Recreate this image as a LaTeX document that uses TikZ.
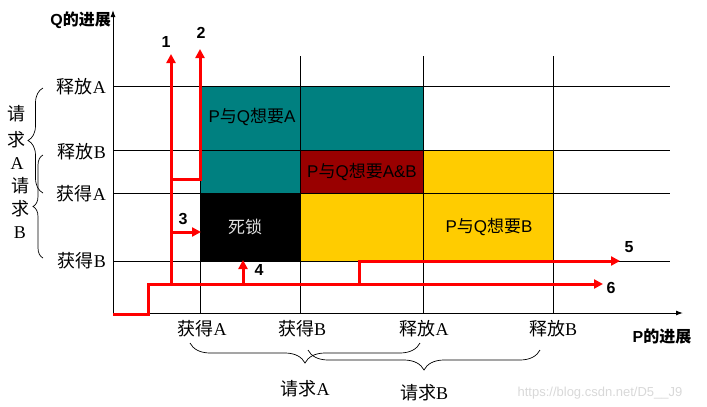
\documentclass[tikz,border=0pt]{standalone}
\usepackage{fontspec}
\setmainfont{Liberation Serif}
\newfontfamily\cjk{Noto Sans CJK SC}
\newfontfamily\arialf{Liberation Sans}
\usetikzlibrary{decorations.pathreplacing,arrows.meta}
\definecolor{tealc}{HTML}{008080}
\definecolor{darkredc}{HTML}{990000}
\definecolor{yellowc}{HTML}{FFCC00}
\definecolor{wmark}{HTML}{D8D8D8}
\tikzset{
  gridline/.style={draw=black, line width=0.9pt},
  axisline/.style={draw=black, line width=1pt, -{Latex[length=7pt,width=5pt]}},
  redpath/.style={draw=red, line width=3pt},
  redarrow/.style={redpath, -{Triangle[length=9pt,width=9pt]}},
  numlabel/.style={font=\arialf\bfseries\fontsize{16}{16}\selectfont, inner sep=0pt},
  ticklabel/.style={font=\fontsize{18}{18}\selectfont, inner sep=0pt},
  regionlabel/.style={font=\fontsize{17}{17}\selectfont, inner sep=0pt},
  axislabel/.style={font=\arialf\bfseries\fontsize{16}{16}\selectfont, inner sep=0pt},
  bracel/.style={draw=black, line width=0.7pt, decorate, decoration={brace, amplitude=#1}},
}
\begin{document}
\begin{tikzpicture}[x=1pt,y=-1pt]
\useasboundingbox (0,0) rectangle (707,407);
% regions
\fill[tealc] (200,86) rectangle (423,150);
\fill[tealc] (200,150) rectangle (300,193);
\fill[darkredc] (300,150) rectangle (423,193);
\fill[yellowc] (423,150) rectangle (553,261);
\fill[yellowc] (300,193) rectangle (423,261);
\fill[black] (200,193) rectangle (300,261);
% grid
\foreach \yy in {86,150,193,261} \draw[gridline] (113,\yy) -- (670,\yy);
\foreach \xx in {200,300,423,553} \draw[gridline] (\xx,56) -- (\xx,313);
% axes
\coordinate (O) at (113,313);
\coordinate (Ytop) at (113,10);
\coordinate (Xend) at (683,313);
\draw[axisline] (O) -- (Ytop);
\draw[axisline] (O) -- (Xend);
\node[axislabel, anchor=east] (qlab) at (111,20) {Q{\cjk 的进展}};
\node[axislabel] (plab) at (662,336) {P{\cjk 的进展}};
% region labels
\node[regionlabel] (ra) at (252,117) {{\arialf P}{\cjk 与}{\arialf Q}{\cjk 想要}{\arialf A}};
\node[regionlabel] (rab) at (362,172) {{\arialf P}{\cjk 与}{\arialf Q}{\cjk 想要}{\arialf A\&B}};
\node[regionlabel] (rb) at (489,227) {{\arialf P}{\cjk 与}{\arialf Q}{\cjk 想要}{\arialf B}};
\node[regionlabel, text=white!88!black] (dl) at (245,227) {\cjk 死锁};
% y tick labels
\node[ticklabel, anchor=east] (yra) at (106,87) {{\cjk 释放}A};
\node[ticklabel, anchor=east] (yrb) at (106,152) {{\cjk 释放}B};
\node[ticklabel, anchor=east] (yga) at (106,194) {{\cjk 获得}A};
\node[ticklabel, anchor=east] (ygb) at (106,261) {{\cjk 获得}B};
% x tick labels
\node[ticklabel] (xga) at (202,329) {{\cjk 获得}A};
\node[ticklabel] (xgb) at (302,329) {{\cjk 获得}B};
\node[ticklabel] (xra) at (424,329) {{\cjk 释放}A};
\node[ticklabel] (xrb) at (553,329) {{\cjk 释放}B};
% left braces
\coordinate (lb1a) at (43,193); \coordinate (lb1b) at (43,88);
\coordinate (lb2a) at (43,258); \coordinate (lb2b) at (43,155);
\draw[bracel=15pt] (lb1a) -- (lb1b);
\draw[bracel=10pt] (lb2a) -- (lb2b);
\node[ticklabel] (qa1) at (17,114) {\cjk 请};
\node[ticklabel] (qa2) at (17,140) {\cjk 求};
\node[ticklabel] (qa3) at (17,164) {A};
\node[ticklabel] (qb1) at (20,186) {\cjk 请};
\node[ticklabel] (qb2) at (20,209) {\cjk 求};
\node[ticklabel] (qb3) at (20,233) {B};
% bottom braces
\coordinate (bb1a) at (420,343); \coordinate (bb1b) at (190,343);
\coordinate (bb2a) at (540,350); \coordinate (bb2b) at (308,350);
\draw[bracel=20pt] (bb1a) -- (bb1b);
\draw[bracel=20pt] (bb2a) -- (bb2b);
\node[ticklabel] (rqa) at (305,389) {{\cjk 请求}A};
\node[ticklabel] (rqb) at (424,393) {{\cjk 请求}B};
% red paths
\coordinate (p0) at (113,314);
\coordinate (p1) at (148,314);
\coordinate (p2) at (148,284);
\coordinate (j1) at (171,284);
\coordinate (j4) at (243,284);
\coordinate (j5) at (359,284);
\coordinate (e6) at (603,284);
\coordinate (e1) at (171,54);
\coordinate (j2) at (171,179);
\coordinate (k2) at (200,179);
\coordinate (e2) at (200,49);
\coordinate (j3) at (171,232);
\coordinate (e3) at (201,232);
\coordinate (e4) at (243,260);
\coordinate (k5) at (359,261);
\coordinate (e5) at (620,261);
\draw[redarrow] (p0) -- (p1) -- (p2) -- (e6);
\draw[redarrow] (j1) -- (e1);
\draw[redarrow] (j2) -- (k2) -- (e2);
\draw[redarrow] (j3) -- (e3);
\draw[redarrow] (j4) -- (e4);
\draw[redarrow] (j5) -- (k5) -- (e5);
\node[numlabel] (n1) at (166,42) {1};
\node[numlabel] (n2) at (201,33) {2};
\node[numlabel] (n3) at (183,219) {3};
\node[numlabel] (n4) at (259,270) {4};
\node[numlabel] (n5) at (629,247) {5};
\node[numlabel] (n6) at (611,288) {6};
% watermark
\node[font=\arialf\fontsize{13}{13}\selectfont, text=wmark, inner sep=0pt] (wm) at (600,393) {https://blog.csdn.net/D5\_\_J9};
\end{tikzpicture}
\end{document}
